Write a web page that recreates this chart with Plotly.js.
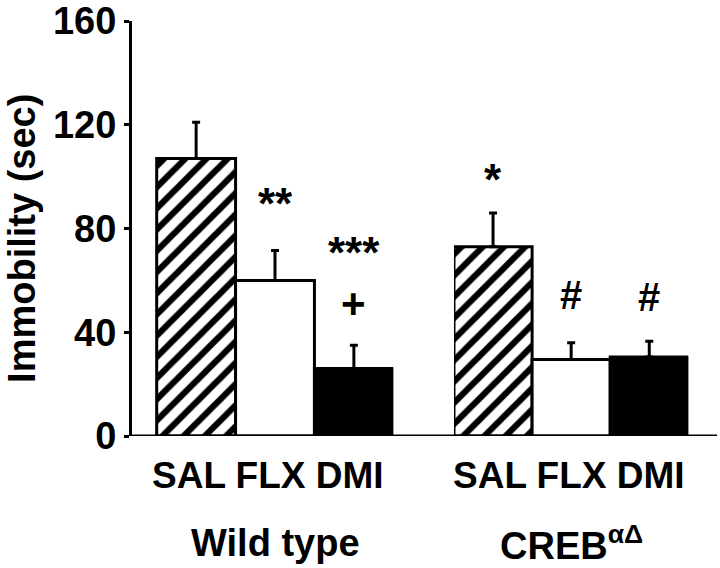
<!DOCTYPE html>
<html>
<head>
<meta charset="utf-8">
<script src="https://cdn.plot.ly/plotly-3.0.1.min.js"></script>
<style>
  html, body { margin: 0; padding: 0; background: #fff; }
  #chart { width: 720px; height: 568px; }
</style>
</head>
<body>
<div id="chart"></div>
<script>
// ---- data ----
const treatments = ["SAL", "FLX", "DMI"];
const groupNames = ["Wild type", "CREB<sup>αΔ</sup>"];
const wildTypeMean = [107, 60, 26];
const wildTypeSem = [14, 11.5, 9];
const crebMean = [73, 29.5, 30.5];
const crebSem = [13, 6.5, 6];
const wildTypeSig = ["", "**", "***"];
const wildTypeSig2 = ["", "", "+"];
const crebSig = ["*", "#", "#"];
const yTicks = [0, 40, 80, 120, 160];

// ---- styling ----
const FONT = "Arial, 'Liberation Sans', Helvetica, sans-serif";
const fills = ["white", "white", "black"];
const patterns = ["/", "", ""];

const traces = [];
function addBars(means, sems, xa) {
  treatments.forEach((t, i) => {
    const marker = { color: fills[i], line: { color: "black", width: 3 } };
    if (patterns[i]) {
      marker.pattern = { shape: patterns[i], fgcolor: "black", bgcolor: "white",
                         size: 15, solidity: 0.42, fillmode: "replace" };
    }
    traces.push({
      type: "bar", x: [t], y: [means[i]], xaxis: xa, yaxis: "y", width: 1,
      marker: marker,
      error_y: {
        type: "data", symmetric: false,
        array: [sems[i]], arrayminus: [0],
        color: "black", thickness: 3, width: 4
      },
      hoverinfo: "skip", showlegend: false
    });
  });
}
addBars(wildTypeMean, wildTypeSem, "x");
addBars(crebMean, crebSem, "x2");

// pixel distance of symbol centre above the error-bar top, and symbol styling
const symStyle = {
  "*":   { size: 44, inkOffset: 34 },
  "**":  { size: 44, inkOffset: 34 },
  "***": { size: 44, inkOffset: 34 },
  "+":   { size: 42, inkOffset: 23 },
  "#":   { size: 40, inkOffset: 23 }
};
const wtGap = [0, 55, 100];
const wtGap2 = [0, 0, 39];
const crebGap = [41, 47, 43];

const annotations = [];
function addSig(labels, means, sems, gaps, xref) {
  labels.forEach((s, i) => {
    if (!s) return;
    const st = symStyle[s];
    annotations.push({
      xref: xref, yref: "y", x: treatments[i], y: means[i] + sems[i],
      text: s, showarrow: false, yanchor: "bottom", xanchor: "center",
      yshift: gaps[i] - st.inkOffset,
      font: { family: FONT, size: st.size, weight: "bold", color: "black" }
    });
  });
}
addSig(wildTypeSig, wildTypeMean, wildTypeSem, wtGap, "x");
addSig(wildTypeSig2, wildTypeMean, wildTypeSem, wtGap2, "x");
addSig(crebSig, crebMean, crebSem, crebGap, "x2");

// treatment labels row and group labels
["x", "x2"].forEach((xr, g) => {
  annotations.push({
    xref: xr, yref: "paper", x: treatments[1], y: -0.095, yanchor: "middle", xanchor: "center",
    xshift: g === 0 ? -7 : -2,
    text: treatments.join(" "), showarrow: false,
    font: { family: FONT, size: 37, weight: "bold", color: "black" }
  });
  annotations.push({
    xref: xr, yref: "paper", x: treatments[1], y: -0.258, yanchor: "middle", xanchor: "center",
    text: groupNames[g], showarrow: false,
    font: { family: FONT, size: 38, weight: "bold", color: "black" }
  });
});

// y-axis title
annotations.push({
  xref: "paper", yref: "paper", x: -0.188, y: 0.475, textangle: -90,
  xanchor: "center", yanchor: "middle",
  text: "Immobility (sec)", showarrow: false,
  font: { family: FONT, size: 38, weight: "bold", color: "black" }
});

const layout = {
  width: 720, height: 568,
  margin: { l: 132, r: 3, t: 21, b: 132 },
  paper_bgcolor: "white", plot_bgcolor: "white",
  bargap: 0, barmode: "overlay",
  xaxis: {
    domain: [0, 0.4467], range: [-0.813, 2.5], type: "category",
    categoryarray: treatments, categoryorder: "array",
    showticklabels: false, ticks: "", showline: false, showgrid: false, zeroline: false
  },
  xaxis2: {
    domain: [0.5504, 0.951], range: [-0.5, 2.5], type: "category", anchor: "y",
    categoryarray: treatments, categoryorder: "array",
    showticklabels: false, ticks: "", showline: false, showgrid: false, zeroline: false
  },
  yaxis: {
    range: [0, 160], tickvals: yTicks, ticktext: yTicks.map(String),
    showline: true, linecolor: "black", linewidth: 3,
    ticks: "outside", ticklen: 5, tickwidth: 3, tickcolor: "black",
    ticklabelstandoff: 0,
    showgrid: false, zeroline: false,
    tickfont: { family: FONT, size: 38, weight: "bold", color: "black" }
  },
  shapes: [{
    type: "line", xref: "paper", yref: "y", x0: -0.003, x1: 1, y0: 0, y1: 0,
    line: { color: "black", width: 3 }, layer: "above"
  }],
  annotations: annotations
};

Plotly.newPlot("chart", traces, layout, { staticPlot: true, displayModeBar: false });
</script>
</body>
</html>
